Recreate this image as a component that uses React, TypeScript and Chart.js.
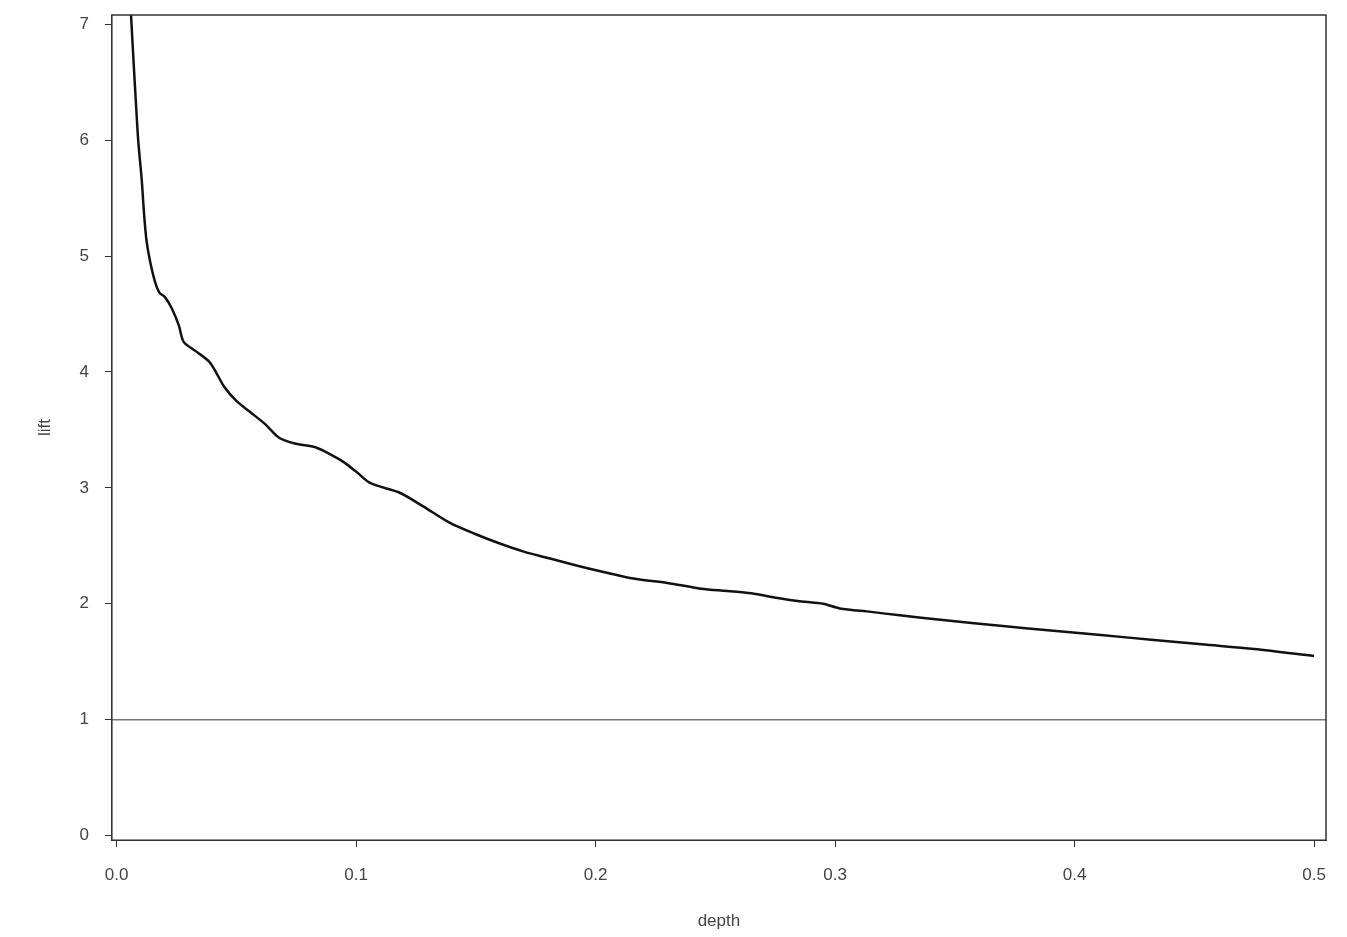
import { useEffect, useRef } from 'react';
import { Chart, registerables } from 'chart.js';

Chart.register(...registerables);

const depth = [0.006, 0.007, 0.008, 0.009, 0.0105, 0.0115, 0.0125, 0.014, 0.016, 0.018, 0.02, 0.023, 0.026, 0.028, 0.033, 0.039, 0.045, 0.05, 0.056, 0.062, 0.068, 0.075, 0.083, 0.09, 0.095, 0.1, 0.106, 0.118, 0.128, 0.139, 0.15, 0.16, 0.17, 0.181, 0.192, 0.202, 0.215, 0.23, 0.244, 0.255, 0.265, 0.276, 0.286, 0.295, 0.302, 0.315, 0.327, 0.345, 0.369, 0.39, 0.411, 0.432, 0.453, 0.475, 0.5];
const lift = [7.08, 6.7, 6.34, 6.0, 5.65, 5.35, 5.13, 4.95, 4.78, 4.68, 4.65, 4.55, 4.4, 4.26, 4.18, 4.08, 3.87, 3.75, 3.65, 3.55, 3.43, 3.38, 3.35, 3.28, 3.22, 3.14, 3.04, 2.96, 2.84, 2.7, 2.6, 2.52, 2.45, 2.39, 2.33, 2.28, 2.22, 2.18, 2.13, 2.11, 2.09, 2.05, 2.02, 2.0, 1.96, 1.93, 1.9, 1.86, 1.81, 1.77, 1.73, 1.69, 1.65, 1.61, 1.55];
const xTicks = [0, 0.1, 0.2, 0.3, 0.4, 0.5];
const yTicks = [0, 1, 2, 3, 4, 5, 6, 7];
const baseline = 1;

const frame = {
  id: 'frame',
  afterDraw(chart: Chart) {
    const { ctx, chartArea: a } = chart;
    ctx.save();
    ctx.strokeStyle = '#333';
    ctx.lineWidth = 1.5;
    ctx.strokeRect(a.left, a.top, a.right - a.left, a.bottom - a.top);
    ctx.restore();
  },
};

export default function App() {
  const ref = useRef<HTMLCanvasElement>(null);
  useEffect(() => {
    document.body.style.margin = '0';
    const font = { family: 'Liberation Sans, Arial', size: 17 };
    const chart = new Chart(ref.current!, {
      type: 'scatter',
      data: {
        datasets: [
          {
            data: depth.map((d, i) => ({ x: d, y: lift[i] })),
            showLine: true,
            borderColor: '#111',
            borderWidth: 2.5,
            pointRadius: 0,
            tension: 0.3,
          },
          {
            data: [{ x: -0.002, y: baseline }, { x: 0.505, y: baseline }],
            showLine: true,
            borderColor: '#777',
            borderWidth: 1.5,
            pointRadius: 0,
          },
        ],
      },
      options: {
        animation: false,
        responsive: false,
        layout: { padding: { top: 15, right: 21, bottom: 5, left: 27 } },
        plugins: { legend: { display: false }, tooltip: { enabled: false } },
        scales: {
          x: {
            type: 'linear',
            min: -0.002,
            max: 0.505,
            afterBuildTicks: (s: any) => { s.ticks = xTicks.map((v) => ({ value: v })); },
            ticks: { color: '#444', font, padding: 18, callback: (v: any) => Number(v).toFixed(1), maxRotation: 0 },
            grid: { drawOnChartArea: false, tickLength: 7, color: '#333' },
            border: { color: '#333' },
            title: { display: true, text: 'depth', color: '#444', font, padding: { top: 8, bottom: 0 } },
          },
          y: {
            min: -0.04,
            max: 7.08,
            afterBuildTicks: (s: any) => { s.ticks = yTicks.map((v) => ({ value: v })); },
            afterFit: (s: any) => { s.paddingTop = 0; s.paddingBottom = 0; },
            ticks: { color: '#444', font, padding: 16 },
            grid: { drawOnChartArea: false, tickLength: 7, color: '#333' },
            border: { color: '#333' },
            title: { display: true, text: 'lift', color: '#444', font, padding: 8 },
          },
        },
      },
      plugins: [frame],
    });
    return () => chart.destroy();
  }, []);
  return <canvas ref={ref} width={1347} height={937} style={{ display: 'block', background: '#fff' }} />;
}
